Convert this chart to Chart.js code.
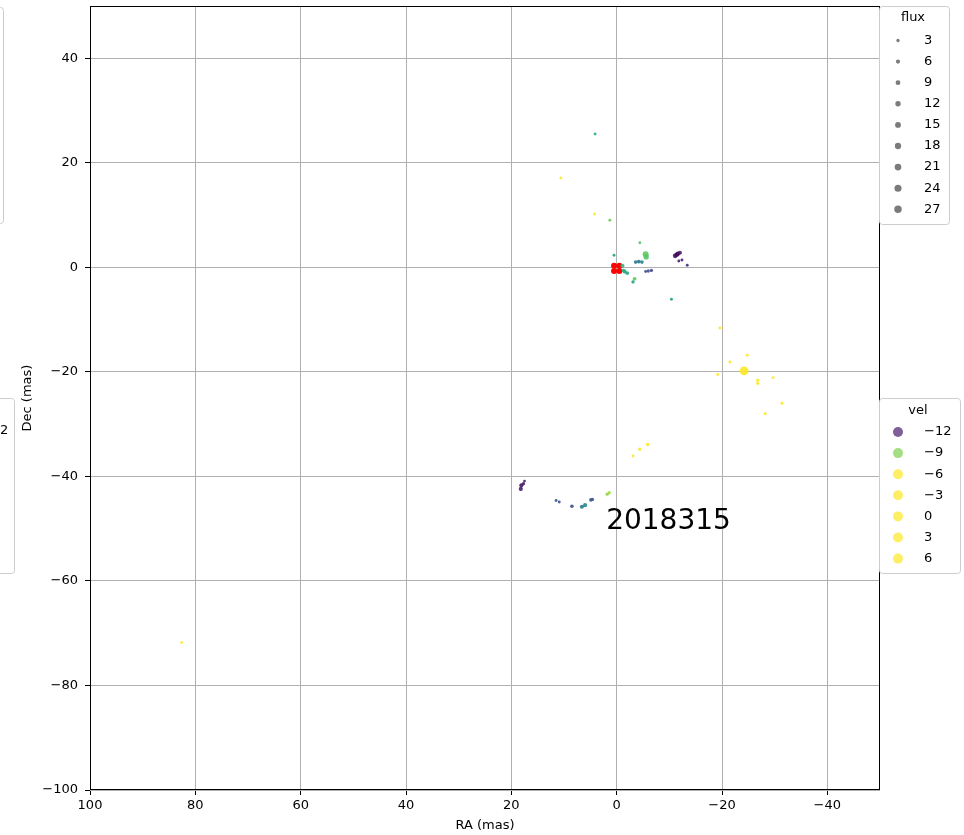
<!DOCTYPE html>
<html>
<head>
<meta charset="utf-8">
<script src="https://cdn.jsdelivr.net/npm/chart.js@4"></script>
<style>
  html, body { margin: 0; padding: 0; background: #fff; }
  canvas { display: block; }
</style>
</head>
<body>
<canvas id="spotChart" width="964" height="835"></canvas>
<script>
// maser spots: RA offset, Dec offset (mas), flux, velocity
var ra = [0.5, -1.1, -1.5, -2.0, -1.3, -3.6, -4.2, -4.8, -5.5, -5.6,
    -6.0, -6.6, -5.5, -3.4, -3.1, -11.1, -11.6, -12.0, -11.4, -11.8,
    -12.4, -13.4, -4.4, -10.4, 4.1, 10.6, 4.2, 1.3,
    -19.6, -24.8, -21.5, -24.2, -19.2, -26.8, -26.8, -29.7, -31.4, -28.2,
    -5.9, -4.4, -3.1,
    18.1, 18.2, 17.7, 17.5, 11.5, 10.9, 8.5, 6.6, 6.0, 4.9, 4.6, 1.8, 1.4,
    82.6];
var dec = [2.3, 0.3, -0.8, -1.1, -0.6, 1.0, 1.1, 1.0, 2.5, 2.0,
    -0.7, -0.6, -0.8, -2.2, -2.8, 2.2, 2.6, 2.8, 2.4, 1.2,
    1.4, 0.4, 4.7, -6.1, 25.5, 17.1, 10.2, 9.0,
    -11.6, -16.8, -18.1, -19.8, -20.5, -21.6, -22.2, -21.1, -26.0, -28.0,
    -33.9, -34.8, -36.1,
    -41.7, -42.4, -41.4, -40.9, -44.6, -44.9, -45.7, -45.8, -45.5, -44.5, -44.4, -43.4, -43.1,
    -71.8];
var flux = [2, 6, 5, 5, 4, 4, 5, 4, 16, 12,
    3, 3, 2, 5, 3, 8, 8, 6, 8, 2,
    2, 2, 2, 2, 2, 2, 2, 2,
    2, 2, 2, 40, 2, 3, 3, 2, 2, 2,
    4, 3, 2,
    6, 6, 3, 2, 2, 2, 4, 6, 6, 4, 3, 3, 3,
    2];
var vel = [-9.9, -9.6, -10.0, -9.8, -9.7, -10.6, -10.7, -10.5, -9.2, -9.3,
    -11.3, -11.4, -11.2, -9.2, -10.0, -12.1, -12.1, -12.0, -12.2, -12.0,
    -11.9, -11.8, -9.3, -10.0, -9.7, -5, -4, -9.1,
    -3, -2, -4, -6, -1, -5, -5, -3, 0, -2,
    -4, -5, -3,
    -12.1, -12.0, -12.0, -11.9, -11.2, -11.3, -11.3, -10.6, -10.4, -11.1, -11.2, -8.9, -8.8,
    0];

// reference positions (red)
var refRa = [0.5, -0.5, 0.5, -0.5];
var refDec = [0.3, 0.3, -0.7, -0.7];

var xTicks = [100, 80, 60, 40, 20, 0, -20, -40];
var yTicks = [40, 20, 0, -20, -40, -60, -80, -100];
var fluxLegend = [3, 6, 9, 12, 15, 18, 21, 24, 27];
var velLegend = [-12, -9, -6, -3, 0, 3, 6];
var epochLabel = '2018315';

var VMIN = -12.3, VMAX = -8.2;
var viridis = ['#440154', '#482475', '#414487', '#355f8d', '#2a788e', '#21918c',
    '#22a884', '#44bf70', '#7ad151', '#bddf26', '#fde725'];

function hexRgb(h) {
    return [parseInt(h.substr(1, 2), 16), parseInt(h.substr(3, 2), 16), parseInt(h.substr(5, 2), 16)];
}

function velColor(v, alpha) {
    var t = (v - VMIN) / (VMAX - VMIN);
    t = Math.max(0, Math.min(1, t));
    var p = t * (viridis.length - 1);
    var i = Math.min(viridis.length - 2, Math.floor(p));
    var f = p - i;
    var a = hexRgb(viridis[i]), b = hexRgb(viridis[i + 1]);
    var c = a.map(function (x, k) { return Math.round(x + (b[k] - x) * f); });
    return 'rgba(' + c[0] + ',' + c[1] + ',' + c[2] + ',' + alpha + ')';
}

function fluxRadius(f) {
    return 0.6 * Math.sqrt(f) + 0.6;
}

function fmt(v) {
    return v < 0 ? '\u2212' + Math.abs(v) : String(v);
}

var FONT = '"DejaVu Sans", sans-serif';

var spots = ra.map(function (x, i) { return { x: x, y: dec[i] }; });
var refs = refRa.map(function (x, i) { return { x: x, y: refDec[i] }; });

function legendBox(ctx, x, y, w, h) {
    ctx.save();
    ctx.fillStyle = 'rgba(255,255,255,0.8)';
    ctx.strokeStyle = '#cccccc';
    ctx.lineWidth = 1;
    ctx.beginPath();
    ctx.roundRect(x + 0.5, y + 0.5, w, h, 3);
    ctx.fill();
    ctx.stroke();
    ctx.restore();
}

var decorations = {
    id: 'decorations',
    afterDraw: function (chart) {
        var ctx = chart.ctx, a = chart.chartArea;
        var xs = chart.scales.x, ys = chart.scales.y;
        ctx.save();

        // full frame
        ctx.strokeStyle = '#000';
        ctx.lineWidth = 1;
        ctx.strokeRect(a.left + 0.5, a.top + 0.5, a.right - a.left - 1, a.bottom - a.top - 1);

        // axis titles
        ctx.fillStyle = '#000';
        ctx.font = '13px ' + FONT;
        ctx.textAlign = 'center';
        ctx.textBaseline = 'middle';
        ctx.fillText('RA (mas)', (a.left + a.right) / 2, 826);
        ctx.save();
        ctx.translate(28, (a.top + a.bottom) / 2);
        ctx.rotate(-Math.PI / 2);
        ctx.fillText('Dec (mas)', 0, 0);
        ctx.restore();

        // epoch label
        ctx.font = '28px ' + FONT;
        ctx.textAlign = 'left';
        ctx.textBaseline = 'alphabetic';
        ctx.fillText(epochLabel, xs.getPixelForValue(2), ys.getPixelForValue(-50));

        // legends cut off at the left edge
        legendBox(ctx, -60, 7, 63, 216);
        legendBox(ctx, -60, 398, 74, 175);
        ctx.fillStyle = '#000';
        ctx.font = '13px ' + FONT;
        ctx.textBaseline = 'middle';
        ctx.fillText('2', 0, 431);

        // flux legend
        legendBox(ctx, 879, 6, 70, 218);
        ctx.fillStyle = '#000';
        ctx.textAlign = 'center';
        ctx.fillText('flux', 913, 18);
        ctx.textAlign = 'left';
        fluxLegend.forEach(function (f, i) {
            var yy = 40.5 + i * 21.1;
            ctx.fillStyle = 'rgba(90,90,90,0.8)';
            ctx.beginPath();
            ctx.arc(898, yy, fluxRadius(f), 0, Math.PI * 2);
            ctx.fill();
            ctx.fillStyle = '#000';
            ctx.fillText(String(f), 924, yy);
        });

        // vel legend
        legendBox(ctx, 879, 398, 81, 175);
        ctx.textAlign = 'center';
        ctx.fillText('vel', 918, 411);
        ctx.textAlign = 'left';
        velLegend.forEach(function (v, i) {
            var yy = 432 + i * 21.1;
            ctx.fillStyle = velColor(v, 0.7);
            ctx.beginPath();
            ctx.arc(898, yy, 5, 0, Math.PI * 2);
            ctx.fill();
            ctx.fillStyle = '#000';
            ctx.fillText(fmt(v), 924, yy);
        });

        ctx.restore();
    }
};

var chart = new Chart(document.getElementById('spotChart'), {
    type: 'scatter',
    data: {
        datasets: [
            {
                label: 'spots',
                data: spots,
                pointRadius: function (c) { return fluxRadius(flux[c.dataIndex]); },
                pointBackgroundColor: function (c) { return velColor(vel[c.dataIndex], 0.9); },
                pointBorderWidth: 0,
                pointHoverRadius: function (c) { return fluxRadius(flux[c.dataIndex]); }
            },
            {
                label: 'reference',
                data: refs,
                pointRadius: 3,
                pointBackgroundColor: '#ff0000',
                pointBorderWidth: 0
            }
        ]
    },
    options: {
        responsive: false,
        animation: false,
        devicePixelRatio: 1,
        layout: { padding: { left: 0, right: 84, top: 6, bottom: 0 } },
        plugins: {
            legend: { display: false },
            tooltip: { enabled: false }
        },
        scales: {
            x: {
                type: 'linear',
                min: -50,
                max: 100,
                reverse: true,
                afterFit: function (scale) {
                    scale.height = 45;
                    scale.paddingLeft = 0;
                    scale.paddingRight = 0;
                },
                afterBuildTicks: function (scale) {
                    scale.ticks = xTicks.map(function (v) { return { value: v }; });
                },
                grid: { color: '#b0b0b0', lineWidth: 1, tickLength: 5, tickColor: '#000' },
                border: { display: false },
                ticks: {
                    color: '#000',
                    font: { family: FONT, size: 13 },
                    padding: 3,
                    maxRotation: 0,
                    callback: function (v) { return fmt(v); }
                }
            },
            y: {
                type: 'linear',
                min: -100,
                max: 50,
                afterFit: function (scale) {
                    scale.width = 90;
                    scale.paddingTop = 0;
                    scale.paddingBottom = 0;
                },
                afterBuildTicks: function (scale) {
                    scale.ticks = yTicks.map(function (v) { return { value: v }; });
                },
                grid: { color: '#b0b0b0', lineWidth: 1, tickLength: 5, tickColor: '#000' },
                border: { display: false },
                ticks: {
                    color: '#000',
                    font: { family: FONT, size: 13 },
                    padding: 7,
                    callback: function (v) { return fmt(v); }
                }
            }
        }
    },
    plugins: [decorations]
});
</script>
</body>
</html>
